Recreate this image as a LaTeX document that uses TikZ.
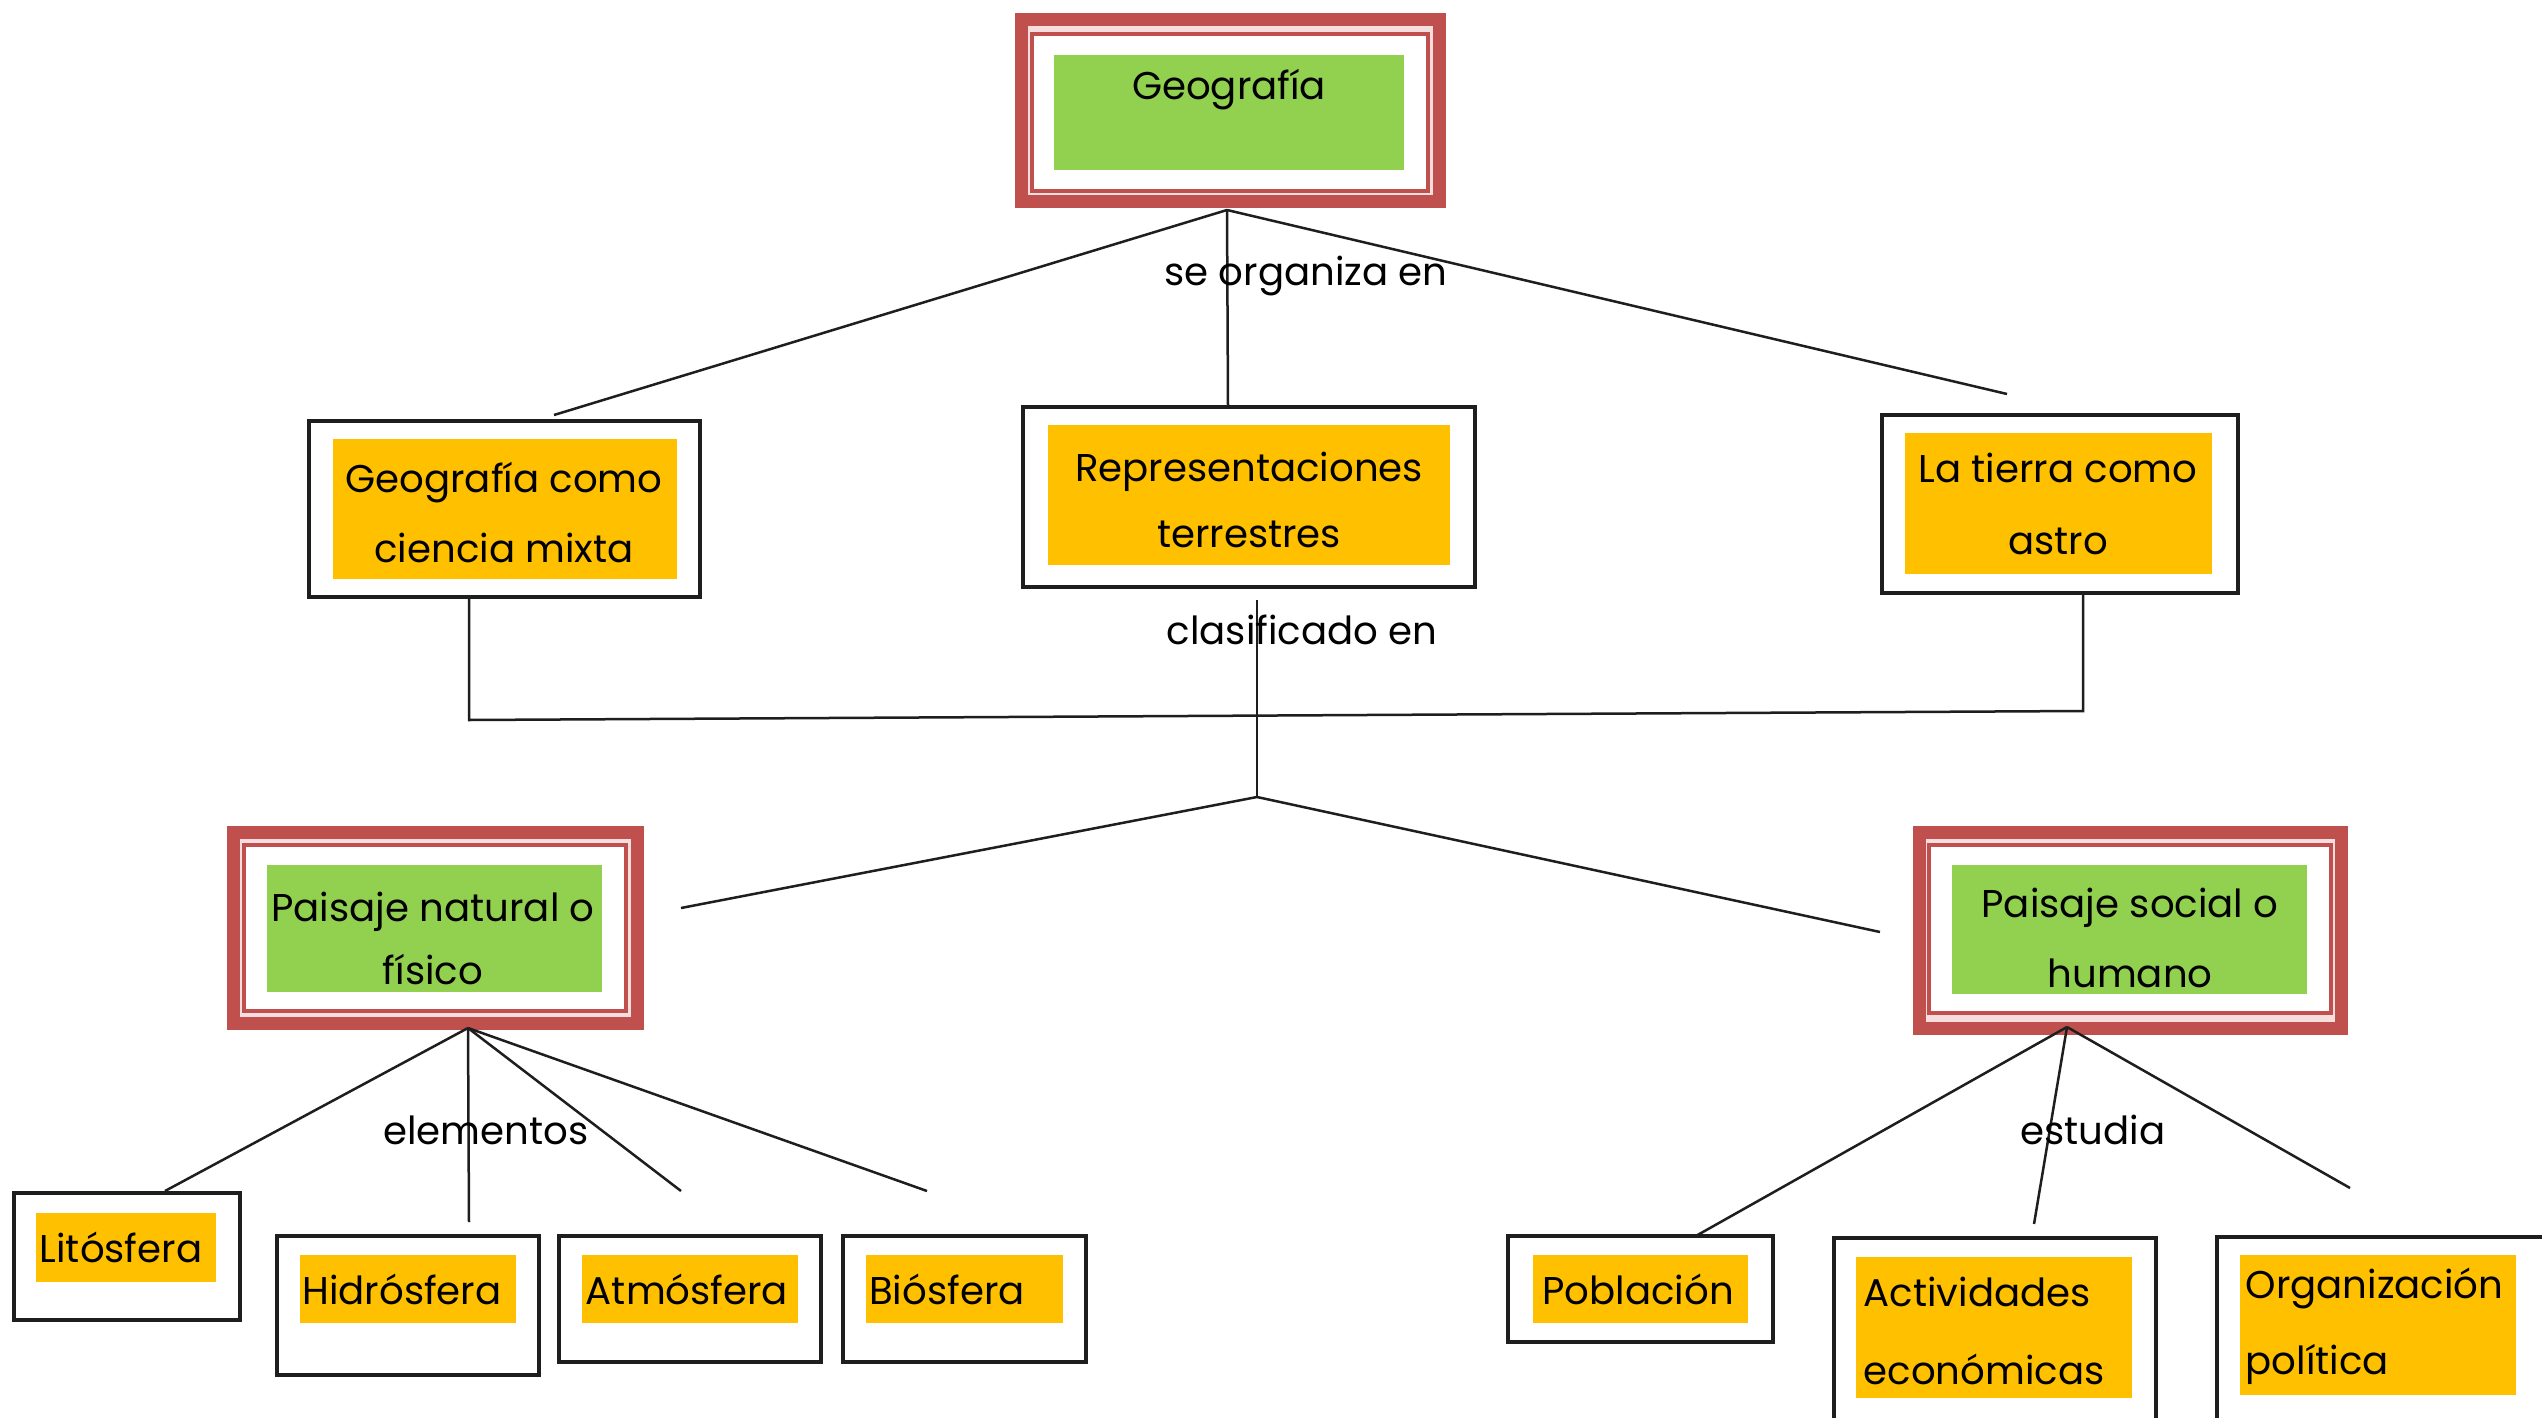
\documentclass[tikz,border=0pt]{standalone}
\usepackage{fontspec}
\setmainfont{Poppins}
\usetikzlibrary{fit}
\definecolor{redC}{HTML}{C0504D}
\definecolor{pinkC}{HTML}{F5DEDD}
\definecolor{greenC}{HTML}{92D050}
\definecolor{orangeC}{HTML}{FFC000}
\definecolor{inkC}{HTML}{1E1E1E}
\newcommand{\fs}[1]{\fontsize{11pt}{#1pt}\selectfont}
\tikzset{
  conn/.style={draw=inkC, line width=0.025cm},
  plainbox/.style={draw=inkC, line width=0.035cm, fill=white, inner sep=0pt, outer sep=0pt},
  orangebox/.style={fill=orangeC, inner sep=0pt, outer sep=0pt},
  greenbox/.style={fill=greenC, inner sep=0pt, outer sep=0pt},
  redouter/.style={draw=redC, fill=pinkC, line width=0.13cm, inner sep=0pt, outer sep=0pt},
  redinner/.style={draw=redC, fill=white, line width=0.045cm, inner sep=0pt, outer sep=0pt},
  txt/.style={inner sep=0pt, align=center, text=black, font=\fs{20}},
  lbl/.style={inner sep=0pt, text=black, font=\fs{20}}
}
\begin{document}
\begin{tikzpicture}[x=0.01cm, y=-0.01cm]
\useasboundingbox (0,0) rectangle (2542,1418);
\clip (0,0) rectangle (2542,1418);
\fill[white] (0,0) rectangle (2542,1418);

% ---------- Geografia ----------
\node[redouter, fit={(1021.5,19.5) (1439.5,201.5)}] (geo) {};
\node[redinner, fit={(1032,34) (1428,191)}] (geoIn) {};
\node[greenbox, fit={(1054,55) (1404,170)}] (geoFill) {};
\node[txt] (geoT) at (1229,90) {Geografía};

% ---------- level 2 ----------
\node[plainbox, fit={(309,421) (700,597)}] (cm) {};
\node[orangebox, fit={(333,439) (677,579)}] (cmFill) {};
\node[txt, font=\fs{19.9}] (cmT) at (504,513) {Geografía como\\ciencia mixta};

\node[plainbox, fit={(1023,407) (1475,587)}] (rep) {};
\node[orangebox, fit={(1048,425) (1450,565)}] (repFill) {};
\node[txt, font=\fs{18.8}] (repT) at (1249,500) {Representaciones\\terrestres};

\node[plainbox, fit={(1882,415) (2238,593)}] (tie) {};
\node[orangebox, fit={(1905,433) (2212,574)}] (tieFill) {};
\node[txt, font=\fs{20.5}] (tieT) at (2058,504) {La tierra como\\astro};

% ---------- level 3 ----------
\node[redouter, fit={(233.5,832.5) (637.5,1023.5)}] (nat) {};
\node[redinner, fit={(244,845) (626,1011)}] (natIn) {};
\node[greenbox, fit={(267,865) (602,992)}] (natFill) {};
\node[txt, font=\fs{17.9}] (natT) at (433,938) {Paisaje natural o\\físico};

\node[redouter, fit={(1919.5,832.5) (2341.5,1028.5)}] (soc) {};
\node[redinner, fit={(1929,845) (2331,1013)}] (socIn) {};
\node[greenbox, fit={(1952,865) (2307,994)}] (socFill) {};
\node[txt, font=\fs{19.9}] (socT) at (2130,938) {Paisaje social o\\humano};

% ---------- leaves (natural) ----------
\node[plainbox, fit={(14,1193) (240,1320)}] (lit) {};
\node[orangebox, fit={(36,1213) (216,1282)}] (litFill) {};
\node[txt] (litT) at (121,1247) {Litósfera};

\node[plainbox, fit={(277,1236) (539,1375)}] (hid) {};
\node[orangebox, fit={(300,1255) (516,1323)}] (hidFill) {};
\node[txt] (hidT) at (402,1289) {Hidrósfera};

\node[plainbox, fit={(559,1236) (821,1362)}] (atm) {};
\node[orangebox, fit={(582,1255) (798,1323)}] (atmFill) {};
\node[txt] (atmT) at (687,1289) {Atmósfera};

\node[plainbox, fit={(843,1236) (1086,1362)}] (bio) {};
\node[orangebox, fit={(866,1255) (1063,1323)}] (bioFill) {};
\node[txt] (bioT) at (947,1289) {Biósfera};

% ---------- leaves (social) ----------
\node[plainbox, fit={(1508,1236) (1773,1342)}] (pob) {};
\node[orangebox, fit={(1533,1255) (1748,1323)}] (pobFill) {};
\node[txt] (pobT) at (1638,1289) {Población};

\node[plainbox, fit={(1834,1238) (2156,1460)}] (act) {};
\node[orangebox, fit={(1856,1257) (2132,1398)}] (actFill) {};
\node[txt, align=left, anchor=west, font=\fs{22.2}] (actT) at (1863,1331) {Actividades\\económicas};

\node[plainbox, fit={(2217,1237) (2580,1460)}] (org) {};
\node[orangebox, fit={(2240,1255) (2516,1395)}] (orgFill) {};
\node[txt, align=left, anchor=west, font=\fs{21.5}] (orgT) at (2245,1326) {Organización\\política};

% ---------- connector points ----------
\coordinate (geoApex) at (1227,210);
\coordinate (tieEnd) at (2007,394);
\coordinate (repTop) at (1228,407);
\coordinate (cmTop) at (554,415);
\coordinate (cmDown) at (469,720);
\coordinate (tieDown) at (2083,711);
\coordinate (midTop) at (1257,600);
\coordinate (midApex) at (1257,797);
\coordinate (natEnd) at (681,908);
\coordinate (socEnd) at (1880,932);
\coordinate (natApex) at (468,1028);
\coordinate (litEnd) at (165,1191);
\coordinate (hidEnd) at (469,1222);
\coordinate (atmEnd) at (681,1191);
\coordinate (bioEnd) at (927,1191);
\coordinate (socApex) at (2067,1027);
\coordinate (pobEnd) at (1694,1237);
\coordinate (actEnd) at (2034,1224);
\coordinate (orgEnd) at (2350,1188);

% ---------- connectors ----------
\draw[conn] (geoApex) -- (cmTop);
\draw[conn] (geoApex) -- (repTop);
\draw[conn] (geoApex) -- (tieEnd);

\draw[conn] (cm.south -| cmDown) -- (cmDown) -- (tieDown) -- (tie.south -| tieDown);
\draw[conn] (midTop) -- (midApex);
\draw[conn] (midApex) -- (natEnd);
\draw[conn] (midApex) -- (socEnd);

\draw[conn] (natApex) -- (litEnd);
\draw[conn] (natApex) -- (hidEnd);
\draw[conn] (natApex) -- (atmEnd);
\draw[conn] (natApex) -- (bioEnd);

\draw[conn] (socApex) -- (pobEnd);
\draw[conn] (socApex) -- (actEnd);
\draw[conn] (socApex) -- (orgEnd);

% ---------- connector labels ----------
\node[lbl] (l1) at (1306,276) {se organiza en};
\node[lbl] (l2) at (1302,630) {clasificado en};
\node[lbl] (l3) at (486,1130) {elementos};
\node[lbl] (l4) at (2093,1130) {estudia};
\end{tikzpicture}
\end{document}
